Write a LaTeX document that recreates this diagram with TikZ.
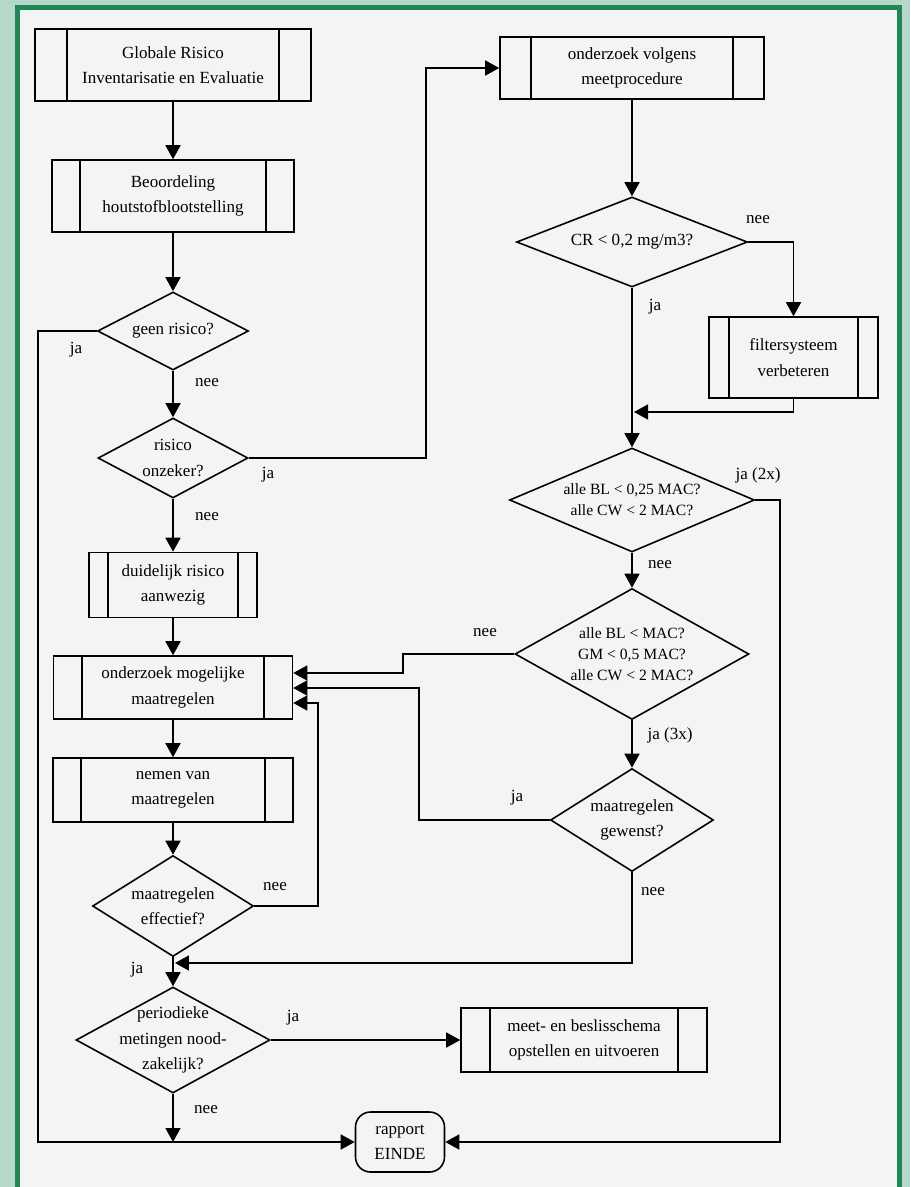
\documentclass[tikz,border=0pt]{standalone}
\usepackage{fontspec}
\setmainfont{Liberation Serif}
\usetikzlibrary{shapes.geometric,arrows.meta}

\definecolor{buitenkleur}{RGB}{182,216,202}
\definecolor{randgroen}{RGB}{34,134,84}
\definecolor{papier}{RGB}{243,244,246}

\newcommand\tekst{\fontsize{9.7}{14.5}\selectfont}
\newcommand\kleintekst{\fontsize{8.9}{11.8}\selectfont}

\tikzset{
  lijn/.style={line width=0.9pt},
  pijl/.style={lijn, -{Triangle[length=0.28cm, width=0.3cm]}},
  proces/.style 2 args={draw, lijn, rectangle, minimum width=#1, minimum height=#2,
    inner sep=0pt, align=center, font=\tekst},
  beslis/.style 2 args={draw, lijn, diamond, minimum width=#1, minimum height=#2, inner sep=0pt},
  eind/.style 2 args={draw, lijn, rectangle, rounded corners=0.3cm, minimum width=#1,
    minimum height=#2, inner sep=0pt, align=center, font=\tekst},
  vraag/.style={align=center, font=\tekst},
  kleinvraag/.style={align=center, font=\kleintekst},
  lbl/.style={font=\tekst, inner sep=0pt},
}

\begin{document}
\begin{tikzpicture}[x=0.02cm, y=-0.02cm]

    % achtergrond en groene rand
    \useasboundingbox (0,0) rectangle (910,1187);
    \fill[buitenkleur] (0,0) rectangle (910,1187);
    \fill[papier] (17.5,7.5) rectangle (899.5,1187);
    \draw[randgroen, line width=0.1cm] (17.5,1187) -- (17.5,7.5) -- (899.5,7.5) -- (899.5,1187);

    % linker kolom
    \node[proces={5.52cm}{1.44cm}] (gri) at (173,65) {Globale Risico\\Inventarisatie en Evaluatie};
    \node[proces={4.84cm}{1.44cm}] (beo) at (173,196) {Beoordeling\\houtstofblootstelling};
    \node[beslis={3.02cm}{1.56cm}, label={[vraag]center:{geen risico?}}] (geen) at (173,331) {};
    \node[beslis={3.0cm}{1.6cm}, label={[vraag]center:{risico\\onzeker?}}] (onz) at (173,458) {};
    \node[proces={3.36cm}{1.3cm}] (dui) at (173,585) {duidelijk risico\\aanwezig};
    \node[proces={4.78cm}{1.26cm}] (omg) at (173,687.5) {onderzoek mogelijke\\maatregelen};
    \node[proces={4.8cm}{1.28cm}] (nem) at (173,790) {nemen van\\maatregelen};
    \node[beslis={3.22cm}{2.02cm}, label={[vraag]center:{maatregelen\\effectief?}}] (eff) at (173,906) {};
    \node[beslis={3.88cm}{2.12cm}, label={[vraag]center:{periodieke\\metingen nood-\\zakelijk?}}] (per) at (173,1040) {};
    \node[eind={1.78cm}{1.2cm}] (rap) at (400,1142) {rapport\\EINDE};

    % rechter kolom
    \node[proces={5.28cm}{1.24cm}] (ovm) at (632,68) {onderzoek volgens\\meetprocedure};
    \node[beslis={4.62cm}{1.8cm}, label={[vraag]center:{CR < 0,2 mg/m3?}}] (cr) at (632,242) {};
    \node[proces={3.38cm}{1.62cm}] (fil) at (793.5,357.5) {filtersysteem\\verbeteren};
    \node[beslis={4.9cm}{2.08cm}, label={[kleinvraag]center:{alle BL < 0,25 MAC?\\alle CW < 2 MAC?}}] (bl1) at (632,500) {};
    \node[beslis={4.68cm}{2.62cm}, label={[kleinvraag]center:{alle BL < MAC?\\GM < 0,5 MAC?\\alle CW < 2 MAC?}}] (bl2) at (632,654) {};
    \node[beslis={3.26cm}{2.06cm}, label={[vraag]center:{maatregelen\\gewenst?}}] (gew) at (632,820) {};
    \node[proces={4.92cm}{1.28cm}] (mbs) at (584,1040) {meet- en beslisschema\\opstellen en uitvoeren};

    % dubbele zijlijnen van de procesblokken
    \foreach \n/\s in {gri/33, beo/29, ovm/32, fil/20.5, dui/19.5, omg/29, nem/29, mbs/29.5}
        \draw[lijn] ([xshift=\s*0.02cm]\n.north west) -- ([xshift=\s*0.02cm]\n.south west)
                    ([xshift=-\s*0.02cm]\n.north east) -- ([xshift=-\s*0.02cm]\n.south east);

    % knooppunten
    \coordinate (knoopF) at (634,412);
    \coordinate (knoopE) at (175,963);
    \coordinate (knoopR) at (173,1142);

    % verbindingen links
    \draw[pijl] (gri) -- (beo);
    \draw[pijl] (beo) -- (geen);
    \draw[pijl] (geen) -- (onz);
    \draw[pijl] (onz) -- (dui);
    \draw[pijl] (dui) -- (omg);
    \draw[pijl] (omg) -- (nem);
    \draw[pijl] (nem) -- (eff);
    \draw[pijl] (eff) -- (per);
    \draw[pijl] (per.south) -- (knoopR);
    \draw[pijl] (geen.west) -| (38,1142) -- (rap.west);
    \draw[pijl] (onz.east) -| (426,68) -- (ovm.west);
    \draw[pijl] (per.east) -- (mbs.west);

    % verbindingen rechts
    \draw[pijl] (ovm) -- (cr);
    \draw[pijl] (cr.east) -| (fil.north);
    \draw[pijl] (cr.south) -- (bl1.north);
    \draw[pijl] (fil.south) |- (knoopF);
    \draw[pijl] (bl1) -- (bl2);
    \draw[pijl] (bl2) -- (gew);
    \draw[pijl] (bl1.east) -| (780,1142) -- (rap.east);

    % terug naar onderzoek mogelijke maatregelen
    \draw[pijl] (bl2.west) -| (403,673) -- (omg.east |- 0,673);
    \draw[pijl] (gew.west) -| (419,688) -- (omg.east |- 0,688);
    \draw[pijl] (eff.east) -| (318,703) -- (omg.east |- 0,703);
    \draw[pijl] (gew.south) |- (knoopE);

    % ja / nee
    \node[lbl] (ja1) at (76,350) {ja};
    \node[lbl] (nee1) at (207,383) {nee};
    \node[lbl] (ja2) at (268,475) {ja};
    \node[lbl] (nee2) at (207,517) {nee};
    \node[lbl] (nee3) at (758,220) {nee};
    \node[lbl] (ja3) at (655,307) {ja};
    \node[lbl] (ja4) at (758,475) {ja (2x)};
    \node[lbl] (nee4) at (660,565) {nee};
    \node[lbl] (nee5) at (485,633) {nee};
    \node[lbl] (ja5) at (670,735) {ja (3x)};
    \node[lbl] (ja6) at (517,798) {ja};
    \node[lbl] (nee6) at (653,892) {nee};
    \node[lbl] (nee7) at (275,887) {nee};
    \node[lbl] (ja7) at (137,970) {ja};
    \node[lbl] (ja8) at (293,1018) {ja};
    \node[lbl] (nee8) at (206,1110) {nee};

\end{tikzpicture}
\end{document}
